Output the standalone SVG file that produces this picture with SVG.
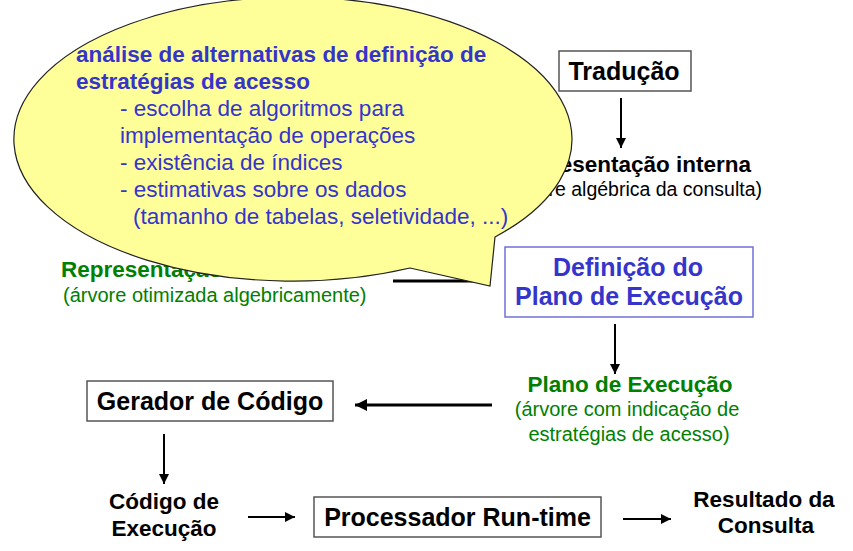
<svg xmlns="http://www.w3.org/2000/svg" width="853" height="551" viewBox="0 0 853 551">
<defs>
<style>
text{font-family:"Liberation Sans",Arial,sans-serif}
.b{font-weight:bold}
.box{fill:#fff;stroke:#555;stroke-width:1.5}
.bbox{fill:#fff;stroke:#7070d8;stroke-width:1.5}
.k{fill:#000}
.g{fill:#008000}
.u{fill:#3535cc}
.c{stroke:#000;stroke-width:2;fill:none}
.t{stroke:#000;stroke-width:3;fill:none}
.co{font-size:22.5px}
</style>
<marker id="ah" viewBox="0 0 10 10" refX="10" refY="5" markerWidth="5" markerHeight="5" markerUnits="strokeWidth" orient="auto">
<path d="M0,0 L10,5 L0,10 z" fill="#000"/>
</marker>
<marker id="ah2" viewBox="0 0 10 10" refX="10" refY="5" markerWidth="4" markerHeight="4" markerUnits="strokeWidth" orient="auto">
<path d="M0,0 L10,5 L0,10 z" fill="#000"/>
</marker>
</defs>

<g id="traducao">
<rect class="box" x="559" y="51" width="132" height="40"/>
<text class="b k" x="624" y="80" font-size="25" text-anchor="middle">Tradução</text>
</g>

<g id="rep-interna">
<text class="b k" x="751" y="172" font-size="22.5" text-anchor="end">Representação interna</text>
<text class="k" x="762" y="196" font-size="19.5" text-anchor="end">(árvore algébrica da consulta)</text>
</g>

<g id="rep-otimizada">
<text class="b g" x="61" y="277" font-size="22.5">Representação</text>
<text class="g" x="63" y="302" font-size="20">(árvore otimizada algebricamente)</text>
</g>

<g id="definicao">
<rect class="bbox" x="505" y="247" width="248" height="70"/>
<text class="b u" x="628" y="276" font-size="25" text-anchor="middle">Definição do</text>
<text class="b u" x="629" y="305" font-size="25" text-anchor="middle">Plano de Execução</text>
</g>

<g id="plano">
<text class="b g" x="630" y="392" font-size="22.5" text-anchor="middle">Plano de Execução</text>
<text class="g" x="627" y="416" font-size="20" text-anchor="middle">(árvore com indicação de</text>
<text class="g" x="629" y="441" font-size="20" text-anchor="middle">estratégias de acesso)</text>
</g>

<g id="gerador">
<rect class="box" x="87" y="381" width="246" height="40"/>
<text class="b k" x="210" y="410" font-size="25" text-anchor="middle">Gerador de Código</text>
</g>

<g id="codigo">
<text class="b k" x="164" y="509" font-size="22.5" text-anchor="middle">Código de</text>
<text class="b k" x="164" y="536" font-size="22.5" text-anchor="middle">Execução</text>
</g>

<g id="processador">
<rect class="box" x="314" y="497" width="287" height="40"/>
<text class="b k" x="457.5" y="526" font-size="25" text-anchor="middle">Processador Run-time</text>
</g>

<g id="resultado">
<text class="b k" x="764" y="507" font-size="22.5" text-anchor="middle">Resultado da</text>
<text class="b k" x="766" y="533" font-size="22.5" text-anchor="middle">Consulta</text>
</g>

<g id="connectors">
<line class="c" x1="621" y1="98" x2="621" y2="148" marker-end="url(#ah)"/>
<line class="t" x1="393" y1="281" x2="484" y2="281"/>
<line class="c" x1="615" y1="324" x2="615" y2="374" marker-end="url(#ah)"/>
<line class="t" x1="492" y1="405" x2="355" y2="405" marker-end="url(#ah2)"/>
<line class="c" x1="164" y1="434" x2="164" y2="484" marker-end="url(#ah)"/>
<line class="c" x1="248" y1="517" x2="295" y2="517" marker-end="url(#ah)"/>
<line class="c" x1="623" y1="519" x2="671" y2="519" marker-end="url(#ah)"/>
</g>

<g id="callout">
<path d="M410,268 L490,286 L495,237 A279,142 0 1 0 410,268 Z" fill="#ffff99" stroke="#222" stroke-width="1.2"/>
<text class="b u co" x="76" y="62">análise de alternativas de definição de</text>
<text class="b u co" x="76" y="89">estratégias de acesso</text>
<text class="u co" x="120" y="116">- escolha de algoritmos para</text>
<text class="u co" x="120" y="143">implementação de operações</text>
<text class="u co" x="120" y="170">- existência de índices</text>
<text class="u co" x="120" y="197">- estimativas sobre os dados</text>
<text class="u co" x="133" y="224">(tamanho de tabelas, seletividade, ...)</text>
</g>
</svg>
